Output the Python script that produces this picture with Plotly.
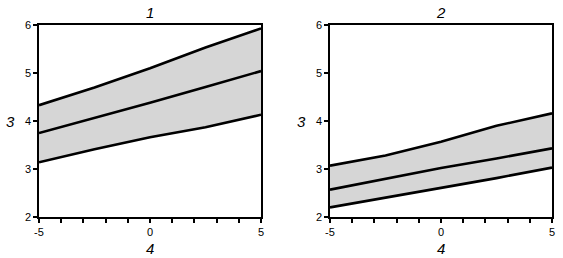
import plotly.graph_objects as go

x = [-5, -2.5, 0, 2.5, 5]
# panel 1
p1_upper = [4.33, 4.70, 5.10, 5.53, 5.93]
p1_mid = [3.75, 4.06, 4.38, 4.71, 5.04]
p1_lower = [3.14, 3.41, 3.66, 3.87, 4.13]
# panel 2
p2_upper = [3.07, 3.28, 3.57, 3.90, 4.16]
p2_mid = [2.57, 2.79, 3.02, 3.22, 3.43]
p2_lower = [2.20, 2.40, 2.61, 2.81, 3.03]

panel_titles = ["1", "2"]
x_title = "4"
y_title = "3"
x_ticks = list(range(-5, 6))
x_ticklabels = [str(v) if v in (-5, 0, 5) else "" for v in x_ticks]
y_ticks = [2, 3, 4, 5, 6]

fig = go.Figure()
panels = [(p1_lower, p1_mid, p1_upper), (p2_lower, p2_mid, p2_upper)]
for i, (lo, mid, up) in enumerate(panels):
    xa = "x" if i == 0 else "x2"
    ya = "y" if i == 0 else "y2"
    ln = dict(color="black", width=2.6)
    fig.add_trace(go.Scatter(x=x, y=lo, mode="lines", line=ln, xaxis=xa, yaxis=ya, showlegend=False))
    fig.add_trace(go.Scatter(x=x, y=up, mode="lines", line=ln, fill="tonexty", fillcolor="#d6d6d6",
                             xaxis=xa, yaxis=ya, showlegend=False))
    fig.add_trace(go.Scatter(x=x, y=mid, mode="lines", line=ln, xaxis=xa, yaxis=ya, showlegend=False))

axis_common = dict(showline=True, mirror=True, linecolor="black", linewidth=1.5, showgrid=False, zeroline=False,
                   ticks="outside", ticklen=4, tickwidth=1.5, tickcolor="black", automargin=False,
                   tickfont=dict(family="Liberation Sans, Arial", size=11, color="black"))

doms_x = [[39 / 563, 261 / 563], [330 / 563, 552 / 563]]
dom_y = [1 - 217 / 258, 1 - 25 / 258]

fig.update_layout(
    width=563, height=258, margin=dict(l=0, r=0, t=0, b=0, autoexpand=False),
    paper_bgcolor="white", plot_bgcolor="white",
    xaxis=dict(domain=doms_x[0], range=[-5, 5], tickvals=x_ticks, ticktext=x_ticklabels, anchor="y", **axis_common),
    yaxis=dict(domain=dom_y, range=[2, 6], tickvals=y_ticks, anchor="x", **axis_common),
    xaxis2=dict(domain=doms_x[1], range=[-5, 5], tickvals=x_ticks, ticktext=x_ticklabels, anchor="y2", **axis_common),
    yaxis2=dict(domain=dom_y, range=[2, 6], tickvals=y_ticks, anchor="x2", **axis_common),
)

title_font = dict(family="Liberation Sans, Arial", size=15, color="black")
for i in range(2):
    cx = (doms_x[i][0] + doms_x[i][1]) / 2
    fig.add_annotation(text="<i>%s</i>" % panel_titles[i], x=cx, y=1 - 13 / 258, xref="paper", yref="paper",
                       showarrow=False, font=title_font, xanchor="center", yanchor="middle")
    fig.add_annotation(text="<i>%s</i>" % x_title, x=cx, y=1 - 248 / 258, xref="paper", yref="paper",
                       showarrow=False, font=title_font, xanchor="center", yanchor="middle")
    fig.add_annotation(text="<i>%s</i>" % y_title, x=(doms_x[i][0] * 563 - 29) / 563, y=1 - 122 / 258,
                       xref="paper", yref="paper", showarrow=False, font=title_font, xanchor="center", yanchor="middle")

fig.write_html("out.html")
